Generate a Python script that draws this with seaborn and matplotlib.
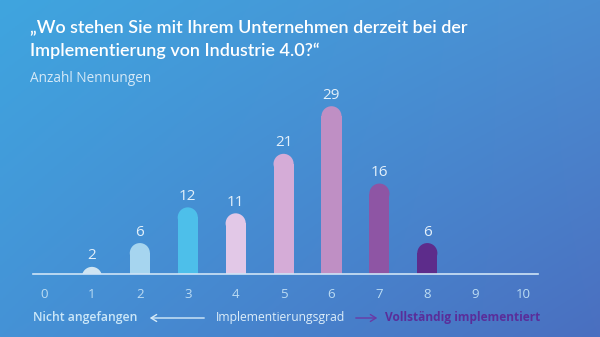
import numpy as np
import pandas as pd
import matplotlib
matplotlib.use("Agg")
import matplotlib.pyplot as plt
import seaborn as sns
from matplotlib.patches import Rectangle, Ellipse

# ---- data ----
grades = [1, 2, 3, 4, 5, 6, 7, 8]
counts = [2, 6, 12, 11, 21, 29, 16, 6]
tick_values = [0, 1, 2, 3, 4, 5, 6, 7, 8, 9, 10]
bar_colors = ["#cfe4f2", "#a6d5ef", "#4dbfea", "#e2c8e7", "#d5acd7", "#bf8fc4", "#8e55a4", "#5d2c8b"]
title_line1 = "„Wo stehen Sie mit Ihrem Unternehmen derzeit bei der"
title_line2 = "Implementierung von Industrie 4.0?“"
subtitle = "Anzahl Nennungen"
left_label = "Nicht angefangen"
mid_label = "Implementierungsgrad"
right_label = "Vollständig implementiert"

sns.set_theme(style="white")
FONT = "Open Sans"
plt.rcParams["font.family"] = [FONT, "DejaVu Sans"]

W, H = 600, 337
fig = plt.figure(figsize=(W / 100, H / 100), dpi=100)

# background gradient
bg = fig.add_axes([0, 0, 1, 1])
tl = np.array([0x3f, 0xa5, 0xdf]) / 255
tr = np.array([0x4b, 0x8e, 0xd2]) / 255
bl = np.array([0x45, 0x92, 0xd6]) / 255
br = np.array([0x4a, 0x6f, 0xc0]) / 255
u = np.linspace(0, 1, 200)[None, :, None]
v = np.linspace(0, 1, 120)[:, None, None]
img = (1 - v) * ((1 - u) * tl + u * tr) + v * ((1 - u) * bl + u * br)
bg.imshow(img, aspect="auto", extent=[0, 1, 0, 1], origin="upper")
bg.set_axis_off()

# chart axes
x0_px, x1_px = 33, 538
base_px, top_px = 274, 95
ax = fig.add_axes([x0_px / W, (H - base_px) / H, (x1_px - x0_px) / W, (base_px - top_px) / H])
ax.patch.set_alpha(0)

df = pd.DataFrame({"grade": grades, "count": counts})
sns.barplot(data=df, x="grade", y="count", native_scale=True, width=0.42,
            palette=bar_colors, hue="grade", legend=False, ax=ax, saturation=1)

ybot, ytop = 0.8, 0.8 + (base_px - top_px) / 5.95
ax.set_xlim(-0.23, 10.31)
ax.set_ylim(ybot, ytop)

# replace bars with round-topped bars
px_per_y = (base_px - top_px) / (ytop - ybot)
px_per_x = (x1_px - x0_px) / (10.31 + 0.23)
bars = list(ax.patches)
for p, c, val in zip(bars, bar_colors, counts):
    x, w, h = p.get_x(), p.get_width(), p.get_height()
    p.remove()
    r_y = (w * px_per_x / 2) / px_per_y
    ax.add_patch(Rectangle((x, 0), w, max(h - r_y, 0), facecolor=c, edgecolor="none"))
    ax.add_patch(Ellipse((x + w / 2, h - r_y), w, 2 * r_y, facecolor=c, edgecolor="none"))
    ax.annotate(str(val), (x + w / 2, h), xytext=(0, 2.5), textcoords="offset points",
                ha="center", va="bottom", fontsize=11, color="#e3f0fa",
                annotation_clip=False)

for s in ["top", "right", "left"]:
    ax.spines[s].set_visible(False)
ax.spines["bottom"].set_color("#cfe4f6")
ax.spines["bottom"].set_linewidth(1.2)
ax.set_xticks(tick_values)
ax.set_xticklabels([str(t) for t in tick_values])
ax.tick_params(axis="x", length=0, pad=10, labelsize=9.5, labelcolor="#bcdcf3")
ax.set_yticks([])
ax.set_xlabel("")
ax.set_ylabel("")
ax.grid(False)

# titles
fig.text(30 / W, 1 - 27 / H, title_line1, ha="left", va="center", fontsize=13.0,
         fontweight="semibold", color="#ffffff", family=["Lato", "DejaVu Sans"])
fig.text(30 / W, 1 - 51 / H, title_line2, ha="left", va="center", fontsize=13.0,
         fontweight="semibold", color="#ffffff", family=["Lato", "DejaVu Sans"])
fig.text(30 / W, 1 - 78 / H, subtitle, ha="left", va="center", fontsize=9.8,
         color="#d5e9f7")

# bottom axis annotation
yb = 1 - 318 / H
fig.text(33 / W, yb, left_label, ha="left", va="center", fontsize=8.8,
         fontweight="semibold", color="#cbe7f8")
fig.text(216 / W, yb, mid_label, ha="left", va="center", fontsize=8.7,
         color="#dcedf9")
fig.text(385 / W, yb, right_label, ha="left", va="center", fontsize=8.6,
         fontweight="bold", color="#5a2e9a")
fig.add_artist(matplotlib.patches.FancyArrowPatch((207 / W, yb), (147 / W, yb),
               transform=fig.transFigure, arrowstyle="->,head_length=4,head_width=2.5",
               color="#d5ebf9", lw=1))
fig.add_artist(matplotlib.patches.FancyArrowPatch((353 / W, yb), (380 / W, yb),
               transform=fig.transFigure, arrowstyle="->,head_length=4,head_width=2.5",
               color="#6a3aa6", lw=1))

fig.savefig("out.png", dpi=100)
